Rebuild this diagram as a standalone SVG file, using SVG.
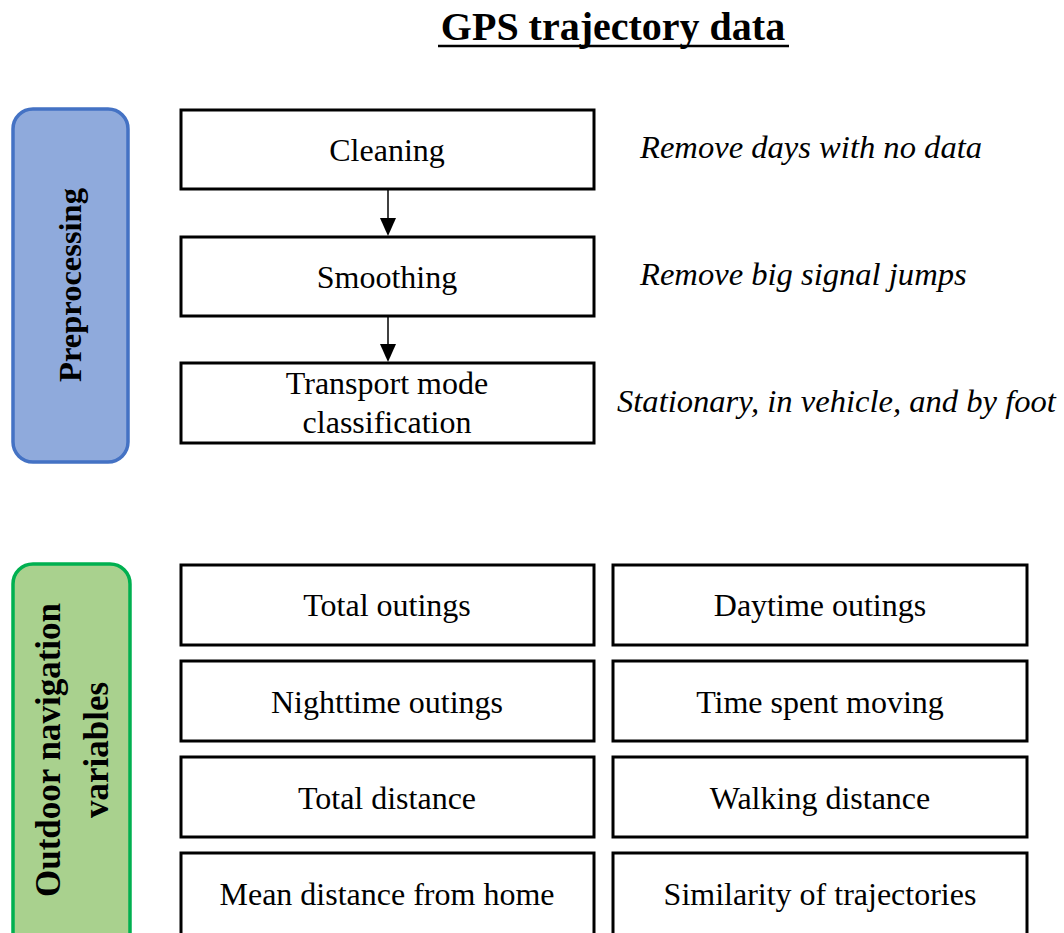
<svg xmlns="http://www.w3.org/2000/svg" width="1064" height="933" viewBox="0 0 1064 933">
<style>
.box{fill:#fff;stroke:#000;stroke-width:3}
.t{font-family:"Liberation Serif","Times New Roman",serif;font-size:32px;fill:#000;text-anchor:middle}
.it{font-family:"Liberation Serif","Times New Roman",serif;font-size:32.6px;font-style:italic;fill:#000}
.side{font-family:"Liberation Serif","Times New Roman",serif;font-weight:bold;fill:#000;text-anchor:middle}
</style>
<rect width="1064" height="933" fill="#fff"/>
<g id="title">
<text x="613" y="40" class="side" font-size="40">GPS trajectory data</text>
<line x1="438" y1="46" x2="789" y2="46" stroke="#000" stroke-width="2.5"/>
</g>
<g id="preprocessing">
<rect x="13" y="109" width="115" height="353" rx="20" fill="#8FAADC" stroke="#4472C4" stroke-width="3.5"/>
<text class="side" font-size="32.5" transform="translate(81,285) rotate(-90)">Preprocessing</text>
</g>
<g id="outdoor">
<rect x="13" y="564" width="117" height="390" rx="20" fill="#A9D18E" stroke="#00B050" stroke-width="3.5"/>
<text class="side" font-size="35" transform="translate(60,750) rotate(-90)">Outdoor  navigation</text>
<text class="side" font-size="35" transform="translate(108,750) rotate(-90)">variables</text>
</g>
<g id="cleaning">
<rect class="box" x="181" y="110" width="413" height="79"/>
<text class="t" x="387" y="161">Cleaning</text>
</g>
<g id="smoothing">
<rect class="box" x="181" y="237" width="413" height="79"/>
<text class="t" x="387" y="288">Smoothing</text>
</g>
<g id="transport">
<rect class="box" x="181" y="363" width="413" height="80"/>
<text class="t" x="387" y="394">Transport mode</text>
<text class="t" x="387" y="433">classification</text>
</g>
<g id="notes">
<text class="it" x="640" y="158">Remove days with no data</text>
<text class="it" x="640" y="285">Remove big signal jumps</text>
<text class="it" x="617" y="412">Stationary, in vehicle, and by foot</text>
</g>
<g id="connectors">
<line x1="388" y1="190" x2="388" y2="220" stroke="#000" stroke-width="1.5"/>
<polygon points="380,218 396,218 388,236" fill="#000"/>
<line x1="388" y1="317" x2="388" y2="346" stroke="#000" stroke-width="1.5"/>
<polygon points="380,344 396,344 388,362" fill="#000"/>
</g>
<g id="total-outings"><rect class="box" x="181" y="565" width="413" height="80"/><text class="t" x="387" y="616">Total outings</text></g>
<g id="daytime-outings"><rect class="box" x="613" y="565" width="414" height="80"/><text class="t" x="820" y="616">Daytime outings</text></g>
<g id="nighttime-outings"><rect class="box" x="181" y="661" width="413" height="80"/><text class="t" x="387" y="713">Nighttime outings</text></g>
<g id="time-moving"><rect class="box" x="613" y="661" width="414" height="80"/><text class="t" x="820" y="713">Time spent moving</text></g>
<g id="total-distance"><rect class="box" x="181" y="757" width="413" height="80"/><text class="t" x="387" y="809">Total distance</text></g>
<g id="walking-distance"><rect class="box" x="613" y="757" width="414" height="80"/><text class="t" x="820" y="809">Walking distance</text></g>
<g id="mean-distance"><rect class="box" x="181" y="853" width="413" height="100"/><text class="t" x="387" y="905">Mean distance from home</text></g>
<g id="similarity"><rect class="box" x="613" y="853" width="414" height="100"/><text class="t" x="820" y="905">Similarity of trajectories</text></g>
</svg>
